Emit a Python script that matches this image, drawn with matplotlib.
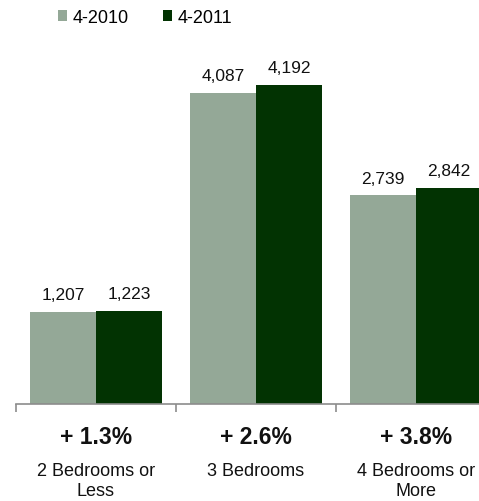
import matplotlib
matplotlib.use('Agg')
import matplotlib.pyplot as plt
import numpy as np

categories = ['2 Bedrooms or\nLess', '3 Bedrooms', '4 Bedrooms or\nMore']
vals_2010 = [1207, 4087, 2739]
vals_2011 = [1223, 4192, 2842]
changes = ['+ 1.3%', '+ 2.6%', '+ 3.8%']
series = ['4-2010', '4-2011']

C_2010 = '#94A897'
C_2011 = '#023302'

plt.rcParams['font.family'] = ['Liberation Sans', 'DejaVu Sans']

fig = plt.figure(figsize=(4.79, 5.02), dpi=100)
ax = fig.add_axes([16/479, 97/502, 480/479, 405/502])

x = np.arange(len(categories))
w = 0.4125
b1 = ax.bar(x - w/2, vals_2010, w, color=C_2010, label=series[0])
b2 = ax.bar(x + w/2, vals_2011, w, color=C_2011, label=series[1])

# value labels above bars
for bars, vals in ((b1, vals_2010), (b2, vals_2011)):
    for b, v in zip(bars, vals):
        ax.annotate(f'{v:,}', (b.get_x() + b.get_width()/2, v),
                    textcoords='offset points', xytext=(0, 7),
                    ha='center', va='bottom', fontsize=12.5, color='#111111')

ax.set_xlim(-0.5, 2.5)
ax.set_ylim(0, 5320)
ax.set_yticks([])
for s in ['top', 'right', 'left']:
    ax.spines[s].set_visible(False)
ax.spines['bottom'].set_color('#8c8c8c')
ax.spines['bottom'].set_linewidth(1.2)
ax.set_xticks([-0.5, 0.5, 1.5, 2.5])
ax.set_xticklabels([])
ax.tick_params(axis='x', length=6, width=1.2, color='#8c8c8c')

for i, (c, cat) in enumerate(zip(changes, categories)):
    ax.text(i, -0.08, c, transform=ax.get_xaxis_transform(), ha='center', va='center',
            fontsize=16.5, fontweight='bold', color='#111111')
    ax.text(i, -0.143, cat, transform=ax.get_xaxis_transform(), ha='center', va='top',
            fontsize=13, color='#111111', linespacing=1.2)

fig.legend(handles=[b1, b2], labels=series, loc='upper left', bbox_to_anchor=(42/479, 1.012),
           ncol=2, frameon=False, fontsize=13, handlelength=0.5, handleheight=0.55,
           handletextpad=0.3, columnspacing=1.9)

fig.savefig('out.png', dpi=100)
